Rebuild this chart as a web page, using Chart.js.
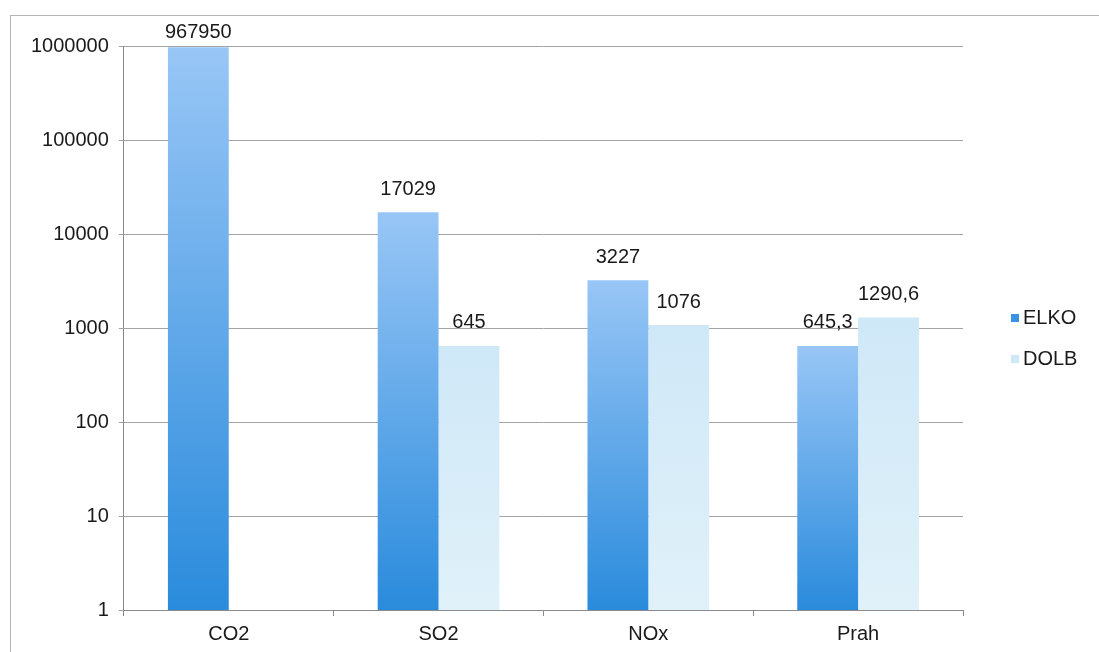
<!DOCTYPE html>
<html>
<head>
<meta charset="utf-8">
<script src="https://cdn.jsdelivr.net/npm/chart.js@4/dist/chart.umd.min.js"></script>
<style>
  html, body { margin: 0; padding: 0; background: #fff; }
  #wrap { width: 1099px; height: 652px; }
</style>
</head>
<body>
<div id="wrap"><canvas id="chart"></canvas></div>
<script>
const categories = ['CO2', 'SO2', 'NOx', 'Prah'];
const elkoValues = [967950, 17029, 3227, 645.3];
const dolbValues = [null, 645, 1076, 1290.6];
const yTickValues = [1, 10, 100, 1000, 10000, 100000, 1000000];
const seriesNames = ['ELKO', 'DOLB'];

const FONT = 'Liberation Sans, Arial, Helvetica, sans-serif';
const SIZE = 20;

function barGradient(top, bottom) {
  return function (context) {
    const chart = context.chart;
    const area = chart.chartArea;
    if (!area || context.raw == null) return top;
    const y = chart.scales.y.getPixelForValue(context.raw);
    const g = chart.ctx.createLinearGradient(0, y, 0, area.bottom);
    g.addColorStop(0, top);
    g.addColorStop(1, bottom);
    return g;
  };
}

// frame, value labels above bars and the small legend on the right
const labelsPlugin = {
  id: 'labels',
  beforeDraw(chart) {
    const c = chart.ctx;
    c.save();
    c.strokeStyle = '#b5b5b5';
    c.lineWidth = 1;
    c.strokeRect(10.5, 15.5, chart.width, chart.height);
    c.restore();
  },
  afterDatasetsDraw(chart) {
    const c = chart.ctx;
    c.save();
    c.font = SIZE + 'px ' + FONT;
    c.fillStyle = '#1a1a1a';
    c.textAlign = 'center';
    c.textBaseline = 'middle';
    chart.data.datasets.forEach(function (ds, i) {
      const meta = chart.getDatasetMeta(i);
      meta.data.forEach(function (bar, j) {
        const v = ds.data[j];
        if (v == null) return;
        const y = Math.max(bar.y - 23, chart.chartArea.top - 14);
        c.fillText(String(v).replace('.', ','), bar.x, y);
      });
    });
    // legend
    const swatches = ['#3a92e4', '#cfe8f8'];
    const x0 = chart.chartArea.right + 48;
    const yc = (chart.chartArea.top + chart.chartArea.bottom) / 2;
    c.textAlign = 'left';
    seriesNames.forEach(function (name, i) {
      const y = yc - 10 + i * 41;
      c.fillStyle = swatches[i];
      c.fillRect(x0, y - 4, 8, 8);
      c.fillStyle = '#1a1a1a';
      c.fillText(name, x0 + 12, y);
    });
    c.restore();
  }
};

new Chart(document.getElementById('chart'), {
  type: 'bar',
  data: {
    labels: categories,
    datasets: [
      {
        label: seriesNames[0],
        data: elkoValues,
        backgroundColor: barGradient('#98c6f6', '#2a8bdc'),
        categoryPercentage: 0.58,
        barPercentage: 1
      },
      {
        label: seriesNames[1],
        data: dolbValues,
        backgroundColor: barGradient('#cfe8f8', '#e0f1f9'),
        categoryPercentage: 0.58,
        barPercentage: 1
      }
    ]
  },
  options: {
    responsive: true,
    maintainAspectRatio: false,
    animation: false,
    layout: { padding: { left: 21, top: 46, right: 136, bottom: 0 } },
    scales: {
      y: {
        type: 'logarithmic',
        min: 1,
        max: 1000000,
        afterBuildTicks: function (scale) {
          scale.ticks = yTickValues.map(v => ({ value: v }));
        },
        ticks: {
          font: { size: SIZE, family: FONT },
          color: '#1a1a1a',
          padding: 10,
          callback: v => String(v)
        },
        grid: { color: '#a3a3a3', tickLength: 5 },
        border: { color: '#8a8a8a' }
      },
      x: {
        ticks: { font: { size: SIZE, family: FONT }, color: '#1a1a1a', padding: 6 },
        grid: { drawOnChartArea: false, color: '#8a8a8a', tickLength: 6, offset: true },
        border: { color: '#8a8a8a' }
      }
    },
    plugins: {
      legend: { display: false },
      tooltip: { enabled: false }
    }
  },
  plugins: [labelsPlugin]
});
</script>
</body>
</html>
